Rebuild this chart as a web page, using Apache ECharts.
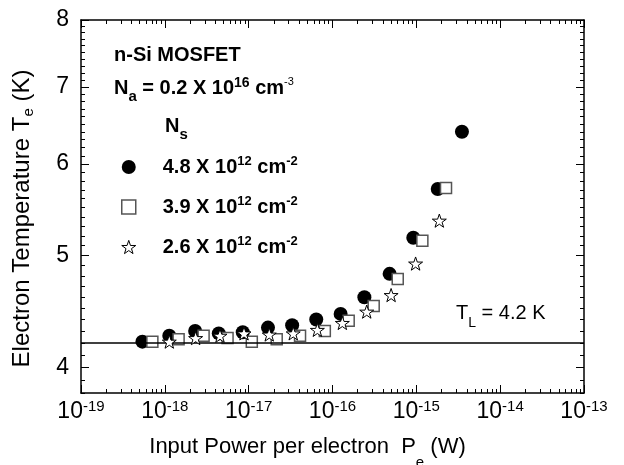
<!DOCTYPE html>
<html><head><meta charset="utf-8">
<script src="https://cdn.jsdelivr.net/npm/echarts@6/dist/echarts.min.js"></script>
<style>html,body{margin:0;padding:0;background:#fff}#c{width:624px;height:465px}</style>
</head><body><div id="c"></div>
<script>
// ---- data ----
const xTicks = [1e-19, 1e-18, 1e-17, 1e-16, 1e-15, 1e-14, 1e-13];
const yTicks = [4, 5, 6, 7, 8];
const seriesNames = ['4.8', '3.9', '2.6'];

const powerA = [5.4e-19, 1.13e-18, 2.3e-18, 4.4e-18, 8.5e-18, 1.7e-17, 3.3e-17, 6.4e-17, 1.25e-16, 2.4e-16, 4.8e-16, 9.2e-16, 1.8e-15, 3.5e-15];
const tempA  = [4.21, 4.26, 4.30, 4.28, 4.29, 4.33, 4.35, 4.40, 4.45, 4.60, 4.82, 5.18, 5.71, 6.40];

const powerB = [7.1e-19, 1.46e-18, 2.9e-18, 5.6e-18, 1.09e-17, 2.16e-17, 4.1e-17, 8.1e-17, 1.56e-16, 3.1e-16, 6.0e-16, 1.18e-15, 2.26e-15];
const tempB  = [4.21, 4.23, 4.26, 4.24, 4.21, 4.23, 4.26, 4.30, 4.39, 4.52, 4.77, 5.15, 5.72];

const powerC = [1.13e-18, 2.33e-18, 4.55e-18, 8.8e-18, 1.76e-17, 3.4e-17, 6.6e-17, 1.31e-16, 2.56e-16, 5.0e-16, 9.8e-16, 1.88e-15];
const tempC  = [4.21, 4.24, 4.26, 4.28, 4.27, 4.28, 4.31, 4.37, 4.47, 4.62, 4.92, 5.36];

const latticeT = 4.2;

// ---- minor tick positions ----
const xMinor = [];
for (let e = -19; e < -13; e++) for (let k = 2; k <= 9; k++) xMinor.push(k * Math.pow(10, e));
const yMinor = [];
for (let i = 38; i <= 80; i++) if (i % 10 !== 0) yMinor.push(i / 10);

const FONT = '"Liberation Sans", Arial, Helvetica, sans-serif';
const STAR = 'path://M50,0 L61.8,35.1 L98.1,35.1 L68.8,56.8 L79.4,90.9 L50,70 L20.6,90.9 L31.2,56.8 L1.9,35.1 L38.2,35.1 Z';

function zip(a, b) { return a.map((v, i) => [v, b[i]]); }

function xAx(pos, ticks, len, main) {
  return {
    type: 'log', logBase: 10, min: 1e-19, max: 1e-13, position: pos,
    axisLine: { show: main, onZero: false, lineStyle: { color: '#000', width: 1.5 } },
    axisTick: { show: true, inside: true, length: len, customValues: ticks, lineStyle: { color: '#000', width: 1 } },
    axisLabel: { show: false },
    splitLine: { show: false }, minorTick: { show: false }
  };
}
function yAx(pos, ticks, len, main) {
  return {
    type: 'log', logBase: 10, min: 3.8, max: 8, position: pos,
    axisLine: { show: main, onZero: false, lineStyle: { color: '#000', width: 1.5 } },
    axisTick: { show: true, inside: true, length: len, customValues: ticks, lineStyle: { color: '#000', width: 1 } },
    axisLabel: { show: false },
    splitLine: { show: false }, minorTick: { show: false }
  };
}

const xMain = xAx('bottom', xTicks, 8, true);
xMain.axisLabel = {
  show: true, customValues: xTicks, margin: 6,
  formatter: v => '{b|10}{s|' + Math.round(Math.log10(v)) + '}',
  rich: {
    b: { fontFamily: FONT, fontSize: 23, color: '#000', lineHeight: 26 },
    s: { fontFamily: FONT, fontSize: 15, color: '#000', lineHeight: 12, verticalAlign: 'top' }
  }
};
xMain.name = '{a|Input Power per electron  P}{sub|e}{a| (W)}';
xMain.nameLocation = 'middle';
xMain.nameGap = 41;
xMain.nameTextStyle = {
  padding: [0, 50, 0, 0],
  rich: {
    a: { fontFamily: FONT, fontSize: 22, color: '#000', lineHeight: 26 },
    sub: { fontFamily: FONT, fontSize: 15, color: '#000', lineHeight: 8, verticalAlign: 'bottom', padding: [0, 0, -10, 0] }
  }
};

const yMain = yAx('left', yTicks, 8, true);
yMain.axisLabel = {
  show: true, customValues: yTicks, margin: 12,
  formatter: v => String(Math.round(v)),
  fontFamily: FONT, fontSize: 23, color: '#000'
};
yMain.name = '{a|Electron Temperature T}{sub|e}{a| (K)}';
yMain.nameLocation = 'middle';
yMain.nameRotate = 90;
yMain.nameGap = 45;
yMain.nameTextStyle = {
  padding: [0, 24, 0, 0],
  rich: {
    a: { fontFamily: FONT, fontSize: 24, color: '#000', lineHeight: 28 },
    sub: { fontFamily: FONT, fontSize: 15, color: '#000', lineHeight: 10, verticalAlign: 'bottom' }
  }
};

const legendText = {
  '4.8': '{g|}{a|4.8 X 10}{p|12}{a| cm}{p|-2}',
  '3.9': '{g|}{a|3.9 X 10}{p|12}{a| cm}{p|-2}',
  '2.6': '{g|}{a|2.6 X 10}{p|12}{a| cm}{p|-2}'
};
const circleStyle = { color: '#000', opacity: 1 };
const squareStyle = { color: '#fff', borderColor: '#555', borderWidth: 1.5, opacity: 1 };
const starStyle = { color: '#fff', borderColor: '#000', borderWidth: 1, opacity: 1 };

const chart = echarts.init(document.getElementById('c'), null, { renderer: 'canvas' });
chart.setOption({
  animation: false,
  backgroundColor: '#fff',
  grid: { left: 81, right: 40, top: 20, bottom: 72, containLabel: false, outerBoundsMode: 'none' },
  xAxis: [xMain, xAx('bottom', xMinor, 4, false), xAx('top', xTicks, 8, true), xAx('top', xMinor, 4, false)],
  yAxis: [yMain, yAx('left', yMinor, 4, false), yAx('right', yTicks, 8, true), yAx('right', yMinor, 4, false)],
  legend: {
    orient: 'vertical', left: 121, top: 155, padding: 0, itemWidth: 14, itemHeight: 14, itemGap: 18,
    symbolKeepAspect: true, selectedMode: false,
    formatter: n => legendText[n],
    textStyle: {
      rich: {
        g: { width: 22 },
        a: { fontFamily: FONT, fontSize: 20, fontWeight: 'bold', color: '#000', lineHeight: 24 },
        p: { fontFamily: FONT, fontSize: 13, fontWeight: 'bold', color: '#000', lineHeight: 12, verticalAlign: 'top' }
      }
    },
    data: [
      { name: seriesNames[0], icon: 'circle', itemStyle: circleStyle },
      { name: seriesNames[1], icon: 'rect', itemStyle: squareStyle },
      { name: seriesNames[2], icon: STAR, itemStyle: starStyle }
    ]
  },
  series: [
    {
      name: seriesNames[0], type: 'scatter', xAxisIndex: 0, yAxisIndex: 0, z: 3,
      symbol: 'circle', symbolSize: 14, itemStyle: circleStyle,
      data: zip(powerA, tempA),
      markLine: {
        silent: true, symbol: ['none', 'none'], label: { show: false },
        lineStyle: { color: '#000', width: 1.5, type: 'solid' },
        data: [{ yAxis: latticeT }]
      }
    },
    {
      name: seriesNames[1], type: 'scatter', xAxisIndex: 0, yAxisIndex: 0, z: 4,
      symbol: 'rect', symbolSize: 11, itemStyle: squareStyle,
      data: zip(powerB, tempB)
    },
    {
      name: seriesNames[2], type: 'scatter', xAxisIndex: 0, yAxisIndex: 0, z: 5,
      symbol: STAR, symbolSize: 14, symbolKeepAspect: true, itemStyle: starStyle,
      data: zip(powerC, tempC)
    }
  ],
  graphic: [
    { type: 'text', left: 114, top: 45, style: { text: 'n-Si MOSFET', fontFamily: FONT, fontSize: 20, fontWeight: 'bold', fill: '#000' } },
    { type: 'text', left: 114, top: 76, style: {
        text: '{a|N}{s|a}{a| = 0.2 X 10}{p|16}{a| cm}{q|-3}',
        rich: {
          a: { fontFamily: FONT, fontSize: 20, fontWeight: 'bold', fill: '#000', lineHeight: 24 },
          s: { fontFamily: FONT, fontSize: 15, fontWeight: 'bold', fill: '#000', lineHeight: 10, verticalAlign: 'bottom', padding: [0, 0, -4, 0] },
          p: { fontFamily: FONT, fontSize: 14, fontWeight: 'bold', fill: '#000', lineHeight: 12, verticalAlign: 'top' },
          q: { fontFamily: FONT, fontSize: 11, fill: '#000', lineHeight: 12, verticalAlign: 'top' }
        } } },
    { type: 'text', left: 165, top: 116, style: {
        text: '{a|N}{s|s}',
        rich: {
          a: { fontFamily: FONT, fontSize: 20, fontWeight: 'bold', fill: '#000', lineHeight: 24 },
          s: { fontFamily: FONT, fontSize: 15, fontWeight: 'bold', fill: '#000', lineHeight: 10, verticalAlign: 'bottom', padding: [0, 0, -4, 0] }
        } } },
    { type: 'text', left: 456, top: 303, style: {
        text: '{a|T}{s|L}{a| = 4.2 K}',
        rich: {
          a: { fontFamily: FONT, fontSize: 20, fill: '#000', lineHeight: 24 },
          s: { fontFamily: FONT, fontSize: 14, fill: '#000', lineHeight: 10, verticalAlign: 'bottom', padding: [0, 0, -5, 0] }
        } } }
  ]
});
</script></body></html>
